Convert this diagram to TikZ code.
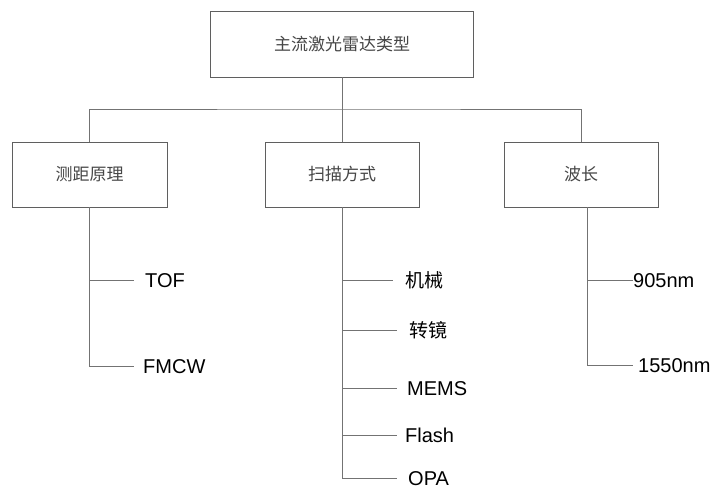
\documentclass[tikz,border=0pt]{standalone}
\usepackage{fontspec}
\setmainfont{Liberation Sans}
\newfontfamily\cjk{Noto Sans CJK SC}
\definecolor{boxline}{RGB}{95,95,95}
\definecolor{conn}{RGB}{115,115,115}
\definecolor{boxtext}{RGB}{70,70,70}
\begin{document}
\begin{tikzpicture}[x=1pt,y=-1pt,
  box/.style={draw=boxline,line width=0.8pt,rectangle,minimum height=65pt,inner sep=0pt,
    font=\cjk\fontsize{17}{20}\selectfont,text=boxtext},
  leaf/.style={inner sep=0pt,anchor=west,text=black,font=\fontsize{20}{24}\selectfont,
    text height=14.4pt,text depth=0pt},
  cleaf/.style={leaf,font=\cjk\fontsize{19}{22}\selectfont},
  conn/.style={draw=conn,line width=0.8pt}]
\useasboundingbox (0,0) rectangle (714,490);
\fill[white] (0,0) rectangle (714,490);
% boxes
\node[box,minimum width=263pt,minimum height=66pt] (top) at (342,44) {主流激光雷达类型};
\node[box,minimum width=155pt] (b1) at (89.5,174.5) {测距原理};
\node[box,minimum width=154pt] (b2) at (342,174.5) {扫描方式};
\node[box,minimum width=154pt] (b3) at (581,174.5) {波长};
\coordinate (j) at (342,109);
\draw[conn] (top.south) -- (j);
\draw[conn] (b1.north) |- (j) -| (b3.north);
\draw[conn] (j) -- (b2.north);
% left leaves
\node[leaf] (tof) at (145,280) {TOF};
\node[leaf] (fmcw) at (143,366) {FMCW};
\draw[conn,shorten >=11pt] (b1.south) |- (tof.west);
\draw[conn,shorten >=9pt] (b1.south) |- (fmcw.west);
% middle leaves
\node[cleaf] (jx) at (405,280) {机械};
\node[cleaf] (zj) at (409,330) {转镜};
\node[leaf] (mems) at (407,388) {MEMS};
\node[leaf] (flash) at (405,435) {Flash};
\node[leaf] (opa) at (408,478) {OPA};
\draw[conn,shorten >=12pt] (b2.south) |- (jx.west);
\draw[conn,shorten >=12pt] (b2.south) |- (zj.west);
\draw[conn,shorten >=10pt] (b2.south) |- (mems.west);
\draw[conn,shorten >=8pt] (b2.south) |- (flash.west);
\draw[conn,shorten >=11pt] (b2.south) |- (opa.west);
% right leaves
\coordinate (b3s) at ([xshift=6pt]b3.south);
\node[leaf] (n905) at (633,280) {905nm};
\node[leaf] (n1550) at (638,365) {1550nm};
\draw[conn] (b3s) |- (n905.west);
\draw[conn,shorten >=5pt] (b3s) |- (n1550.west);
\end{tikzpicture}
\end{document}
